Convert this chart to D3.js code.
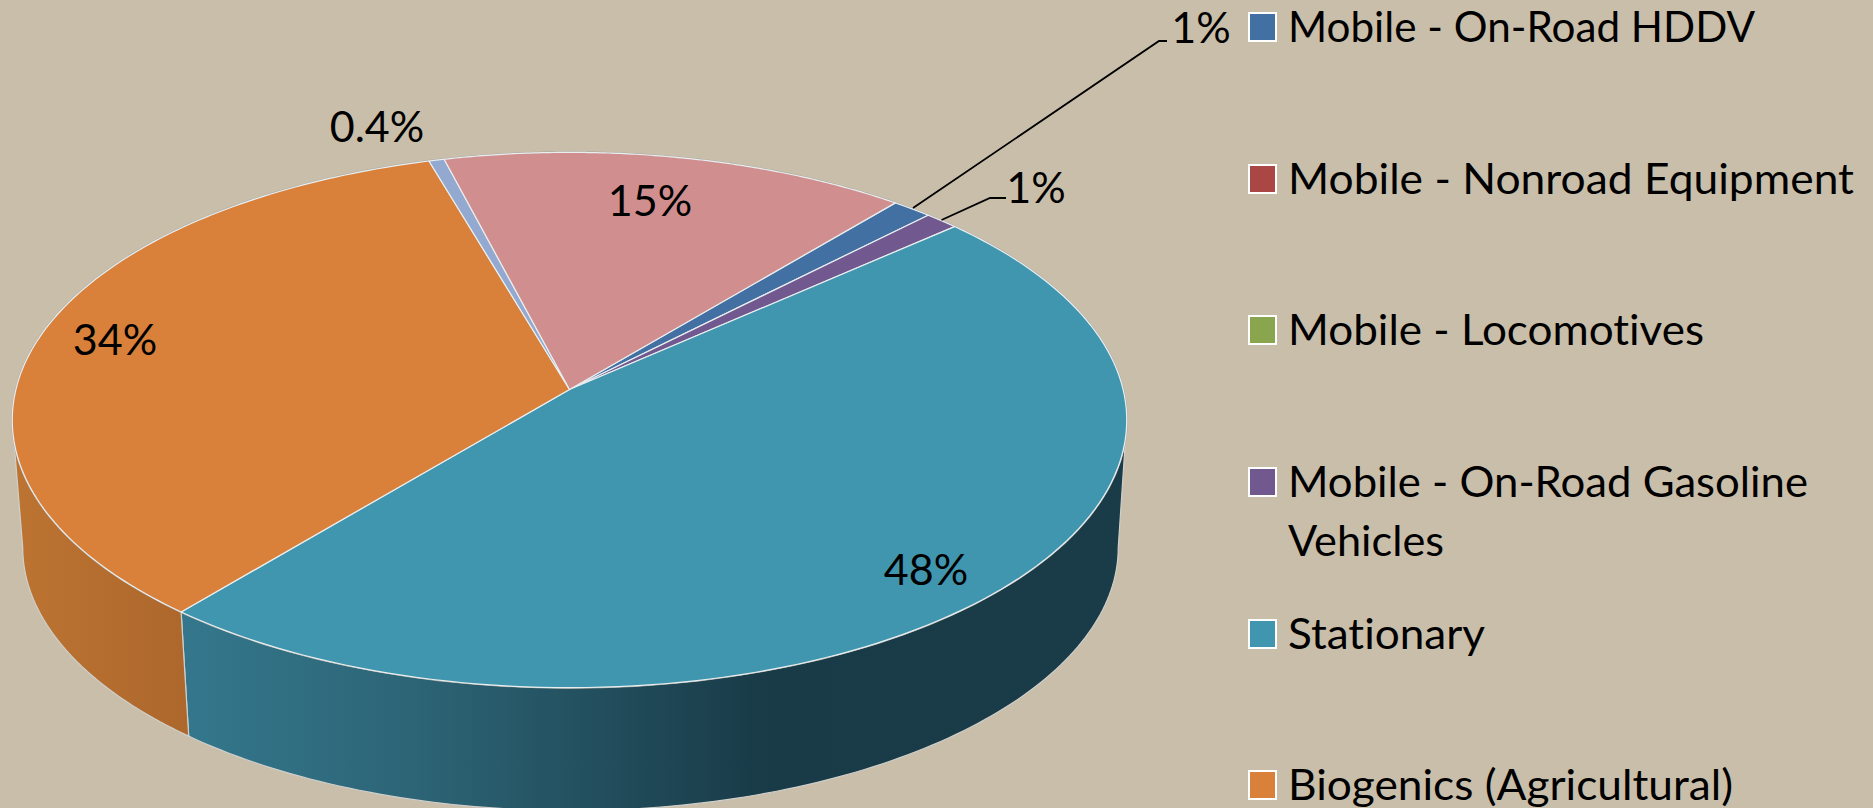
<!DOCTYPE html>
<html><head><meta charset="utf-8">
<script src="https://cdn.jsdelivr.net/npm/d3@7/dist/d3.min.js"></script>
<style>html,body{margin:0;padding:0;background:#C9BEA9;overflow:hidden}svg{display:block}text{font-family:Lato,"Open Sans",sans-serif;fill:#000;font-variant-ligatures:none}</style>
</head><body><svg id="c" width="1873" height="808"></svg>
<script>
const categories=["Mobile - On-Road HDDV","Mobile - Nonroad Equipment","Mobile - Locomotives","Mobile - On-Road Gasoline Vehicles","Stationary","Biogenics (Agricultural)","Other (small)","Other (large)"];
const values=[1.3,0,0,1.1,47.6,34.4,0.5,15.1];
const colors=["#4270A3","#AA4643","#89A54E","#71588F","#4096AE","#D9803B","#93A9CF","#D08F8E"];
const pctLabels=["1%","","","1%","48%","34%","0.4%","15%"];
const legendLines=[["Mobile - On-Road HDDV"],["Mobile - Nonroad Equipment"],["Mobile - Locomotives"],["Mobile - On-Road Gasoline","Vehicles"],["Stationary"],["Biogenics (Agricultural)"]];
const legendWidths=[[467],[566],[416],[520,156],[197],[445]];

const svg=d3.select("#c");
// perspective disk -> screen
const ax=570,ay=390,kk=-0.114,aa=219.7,cc=553.6;
const rimTop=(t)=>{const u=Math.sin(t),v=-Math.cos(t),d=1+kk*v;return [ax+cc*u/d-0.5,(aa*v+ay)/d-0.5];};
const cxE=568.5,cyE=419.5,sBot=0.983,yBot=547;
const rimBot=(t)=>{const p=rimTop(t);return [cxE+(p[0]-cxE)*sBot+1,yBot+(p[1]-cyE)*sBot];};
const start=39.8*Math.PI/180;
const arcs=d3.pie().sort(null).value(d=>d).startAngle(start).endAngle(start+2*Math.PI)(values);
const line=d3.line();
const samples=(a,b,f)=>d3.range(0,121).map(i=>f(a+(b-a)*i/120));

const defs=svg.append("defs");
const gt=defs.append("linearGradient").attr("id","gTeal").attr("gradientUnits","userSpaceOnUse").attr("x1",185).attr("x2",1125).attr("y1",0).attr("y2",0);
[[0,"#34778C"],[0.25,"#2C6475"],[0.62,"#193A47"],[1,"#1A3B48"]].forEach(s=>gt.append("stop").attr("offset",s[0]).attr("stop-color",s[1]));
const go=defs.append("linearGradient").attr("id","gOrange").attr("gradientUnits","userSpaceOnUse").attr("x1",12).attr("x2",190).attr("y1",0).attr("y2",0);
[[0,"#BD7432"],[1,"#AD672C"]].forEach(s=>go.append("stop").attr("offset",s[0]).attr("stop-color",s[1]));

// walls: silhouette runs between the horizontal extremes of the rim
const tRight=Math.acos(kk), tLeft=2*Math.PI-Math.acos(kk);
const stat=arcs[4];
const wall=(a,b,fill)=>{
  const pts=samples(a,b,rimTop).concat(samples(b,a,rimBot));
  svg.append("path").attr("d",line(pts)+"Z").attr("fill",fill).attr("stroke","#cfcfcb").attr("stroke-width",1.2);
};
wall(tRight,stat.endAngle,"url(#gTeal)");
wall(stat.endAngle,tLeft,"url(#gOrange)");

// grey outline just outside the top face
svg.append("path").attr("d",line(samples(0,2*Math.PI,rimTop))+"Z").attr("fill","none").attr("stroke","#a8a8a2").attr("stroke-width",2.2);

// top face
arcs.forEach((d,i)=>{
  if(d.value===0)return;
  const pts=[[rimTop(0)[0]*0+ax-0.5,ay-0.5]].concat(samples(d.startAngle,d.endAngle,rimTop));
  svg.append("path").attr("d",line(pts)+"Z").attr("fill",colors[i]).attr("stroke","#e9eef0").attr("stroke-width",1.2).attr("stroke-linejoin","round");
});

// leader lines
const leaders=[[[913,208],[1159,41],[1167,41]],[[941.5,220],[990,198],[1006,198]]];
leaders.forEach(l=>svg.append("path").attr("d",line(l)).attr("fill","none").attr("stroke","#000").attr("stroke-width",1.8));

// data labels
const labelPos=[[1201,43],null,null,[1036,203],[926,585],[115,355],[377,142],[650,216]];
pctLabels.forEach((t,i)=>{
  if(!t)return;
  svg.append("text").attr("x",labelPos[i][0]).attr("y",labelPos[i][1]).attr("text-anchor","middle").attr("font-size",43).text(t);
});

// legend
const rowY=[13,165,316,468,620,771];
legendLines.forEach((ls,i)=>{
  svg.append("rect").attr("x",1249).attr("y",rowY[i]).attr("width",27).attr("height",28).attr("fill",colors[i]).attr("stroke","#fff").attr("stroke-width",2);
  ls.forEach((t,j)=>svg.append("text").attr("x",1288).attr("y",rowY[i]+29+j*59).attr("font-size",43)
    .attr("textLength",legendWidths[i][j]).attr("lengthAdjust","spacingAndGlyphs").text(t));
});
</script></body></html>
